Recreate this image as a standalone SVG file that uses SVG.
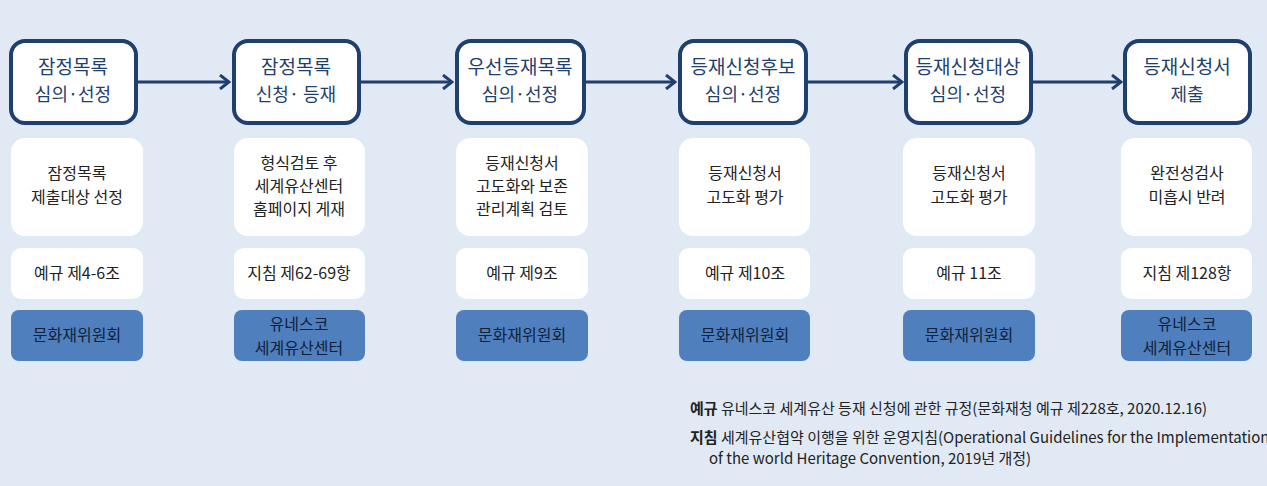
<svg xmlns="http://www.w3.org/2000/svg" width="1267" height="486" viewBox="0 0 1267 486">
<style>
text{font-family:"Noto Sans CJK KR","Noto Sans",sans-serif;text-anchor:middle;fill:#222}
.top{fill:#fff;stroke:#1f3f6e;stroke-width:4}
.t{font-size:19px;fill:#1f3f6e}
.t2{font-size:18px;fill:#1f3f6e}
.w{fill:#fff}
.b{fill:#4f7fbd}
.m{font-size:16px}
.bt{font-size:16px;fill:#10213a}
.f{font-size:15px;text-anchor:start}
.conn{stroke:#1f3f6e;stroke-width:3;fill:none}
</style>
<defs><marker id="ah" markerWidth="12" markerHeight="16" refX="10" refY="8" orient="auto" markerUnits="userSpaceOnUse"><path d="M1,1 L10,8 L1,15" fill="none" stroke="#1f3f6e" stroke-width="3"/></marker></defs>
<rect width="1267" height="486" fill="#e1e9f4"/>
<g id="connectors">
<line class="conn" x1="137" y1="82" x2="229" y2="82" marker-end="url(#ah)"/>
<line class="conn" x1="360" y1="82" x2="452" y2="82" marker-end="url(#ah)"/>
<line class="conn" x1="586" y1="82" x2="675" y2="82" marker-end="url(#ah)"/>
<line class="conn" x1="808" y1="82" x2="902" y2="82" marker-end="url(#ah)"/>
<line class="conn" x1="1033" y1="82" x2="1121" y2="82" marker-end="url(#ah)"/>
</g>
<g id="n1"><rect class="top" x="11" y="41" width="125" height="82" rx="14"/><text class="t" x="73" y="74">잠정목록</text><text class="t2" x="73" y="101">심의·선정</text></g>
<g id="n2"><rect class="top" x="234" y="41" width="125" height="82" rx="14"/><text class="t" x="296" y="74">잠정목록</text><text class="t2" x="296" y="101">신청· 등재</text></g>
<g id="n3"><rect class="top" x="457" y="41" width="127" height="82" rx="14"/><text class="t" x="520" y="74">우선등재목록</text><text class="t2" x="520" y="101">심의·선정</text></g>
<g id="n4"><rect class="top" x="680" y="41" width="126" height="82" rx="14"/><text class="t" x="743" y="74">등재신청후보</text><text class="t2" x="743" y="101">심의·선정</text></g>
<g id="n5"><rect class="top" x="906" y="41" width="125" height="82" rx="14"/><text class="t" x="968" y="74">등재신청대상</text><text class="t2" x="968" y="101">심의·선정</text></g>
<g id="n6"><rect class="top" x="1125" y="41" width="125" height="82" rx="14"/><text class="t" x="1187" y="74">등재신청서</text><text class="t2" x="1187" y="101">제출</text></g>

<g id="d1"><rect class="w" x="11" y="138" width="132" height="98" rx="14"/><text class="m" x="77" y="179">잠정목록</text><text class="m" x="77" y="203">제출대상 선정</text></g>
<g id="d2"><rect class="w" x="234" y="138" width="131" height="98" rx="14"/><text class="m" x="299" y="169">형식검토 후</text><text class="m" x="299" y="192">세계유산센터</text><text class="m" x="299" y="215">홈페이지 게재</text></g>
<g id="d3"><rect class="w" x="456" y="138" width="132" height="98" rx="14"/><text class="m" x="522" y="169">등재신청서</text><text class="m" x="522" y="192">고도화와 보존</text><text class="m" x="522" y="215">관리계획 검토</text></g>
<g id="d4"><rect class="w" x="679" y="138" width="131" height="98" rx="14"/><text class="m" x="745" y="179">등재신청서</text><text class="m" x="745" y="203">고도화 평가</text></g>
<g id="d5"><rect class="w" x="903" y="138" width="132" height="98" rx="14"/><text class="m" x="969" y="179">등재신청서</text><text class="m" x="969" y="203">고도화 평가</text></g>
<g id="d6"><rect class="w" x="1121" y="138" width="131" height="98" rx="14"/><text class="m" x="1187" y="179">완전성검사</text><text class="m" x="1187" y="203">미흡시 반려</text></g>

<g id="r1"><rect class="w" x="11" y="248" width="132" height="51" rx="10"/><text class="m" x="77" y="279">예규 제4-6조</text></g>
<g id="r2"><rect class="w" x="234" y="248" width="131" height="51" rx="10"/><text class="m" x="299" y="279">지침 제62-69항</text></g>
<g id="r3"><rect class="w" x="456" y="248" width="132" height="51" rx="10"/><text class="m" x="522" y="279">예규 제9조</text></g>
<g id="r4"><rect class="w" x="679" y="248" width="131" height="51" rx="10"/><text class="m" x="745" y="279">예규 제10조</text></g>
<g id="r5"><rect class="w" x="903" y="248" width="132" height="51" rx="10"/><text class="m" x="969" y="279">예규 11조</text></g>
<g id="r6"><rect class="w" x="1121" y="248" width="131" height="51" rx="10"/><text class="m" x="1187" y="279">지침 제128항</text></g>

<g id="o1"><rect class="b" x="11" y="310" width="132" height="51" rx="8"/><text class="bt" x="77" y="341">문화재위원회</text></g>
<g id="o2"><rect class="b" x="234" y="310" width="131" height="51" rx="8"/><text class="bt" x="299" y="330">유네스코</text><text class="bt" x="299" y="354">세계유산센터</text></g>
<g id="o3"><rect class="b" x="456" y="310" width="132" height="51" rx="8"/><text class="bt" x="522" y="341">문화재위원회</text></g>
<g id="o4"><rect class="b" x="679" y="310" width="131" height="51" rx="8"/><text class="bt" x="745" y="341">문화재위원회</text></g>
<g id="o5"><rect class="b" x="903" y="310" width="132" height="51" rx="8"/><text class="bt" x="969" y="341">문화재위원회</text></g>
<g id="o6"><rect class="b" x="1121" y="310" width="131" height="51" rx="8"/><text class="bt" x="1187" y="330">유네스코</text><text class="bt" x="1187" y="354">세계유산센터</text></g>

<g id="notes">
<text class="f" x="690" y="414"><tspan font-weight="bold">예규</tspan> 유네스코 세계유산 등재 신청에 관한 규정(문화재청 예규 제228호, 2020.12.16)</text>
<text class="f" x="690" y="443"><tspan font-weight="bold">지침</tspan> 세계유산협약 이행을 위한 운영지침(Operational Guidelines for the Implementation</text>
<text class="f" x="709" y="464">of the world Heritage Convention, 2019년 개정)</text>
</g>
</svg>
